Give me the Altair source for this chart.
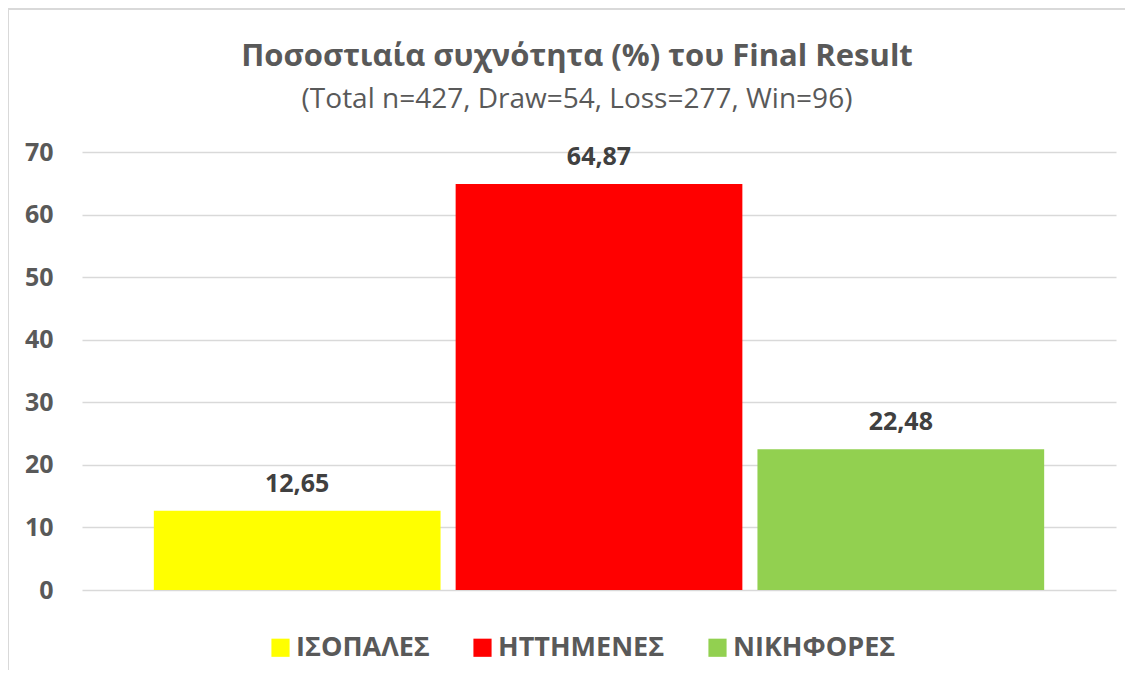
import altair as alt
import pandas as pd

categories = ["ΙΣΟΠΑΛΕΣ", "ΗΤΤΗΜΕΝΕΣ", "ΝΙΚΗΦΟΡΕΣ"]
percentages = [12.65, 64.87, 22.48]
colors = ["#FFFF00", "#FF0000", "#92D050"]
y_ticks = [0, 10, 20, 30, 40, 50, 60, 70]

title_text = "Ποσοστιαία συχνότητα (%) του Final Result"
subtitle_text = "(Total n=427, Draw=54, Loss=277, Win=96)"

df = pd.DataFrame({"cat": categories, "pct": percentages})

FONT = "Open Sans"
GRAY = "#595959"
W, H = 1034, 438

x_enc = alt.X("cat:N", sort=categories, axis=None,
              scale=alt.Scale(paddingInner=0.05, paddingOuter=0.238))
y_scale = alt.Scale(domain=[0, 70], nice=False)

bars = alt.Chart(df).mark_bar().encode(
    x=x_enc,
    y=alt.Y("pct:Q", scale=y_scale,
            axis=alt.Axis(values=y_ticks, title=None, domain=False, ticks=False,
                          labelPadding=29, labelFont=FONT, labelFontSize=25,
                          labelFontWeight="bold", labelColor=GRAY,
                          gridColor="#d9d9d9", gridWidth=1.5)),
    color=alt.Color("cat:N", sort=categories,
                    scale=alt.Scale(domain=categories, range=colors),
                    legend=alt.Legend(title=None, orient="none", direction="horizontal",
                                      legendX=185, legendY=482,
                                      symbolType="square", symbolSize=330,
                                      symbolStrokeWidth=0,
                                      labelFont=FONT, labelFontSize=27, labelLimit=400,
                                      labelFontWeight="bold", labelColor=GRAY,
                                      labelOffset=2, columnPadding=39)),
)

labels = alt.Chart(df).transform_calculate(
    lbl="replace(format(datum.pct, '.2f'), '.', ',')"
).mark_text(font=FONT, fontSize=25, fontWeight="bold", color="#404040",
            baseline="alphabetic", dy=-19).encode(
    x=x_enc,
    y=alt.Y("pct:Q", scale=y_scale),
    text="lbl:N",
)

frame = alt.Chart(df).mark_rect(fill=None, stroke="#d9d9d9", strokeWidth=1.5).encode(
    x=alt.value(-74), x2=alt.value(W + 200),
    y=alt.value(-143), y2=alt.value(H + 200),
)

title = alt.Chart(pd.DataFrame({"t": [title_text]})).mark_text(
    font=FONT, fontSize=31, fontWeight="bold", color=GRAY, baseline="middle"
).encode(x=alt.value(495), y=alt.value(-95), text="t:N")

subtitle = alt.Chart(pd.DataFrame({"t": [subtitle_text]})).mark_text(
    font=FONT, fontSize=28, color=GRAY, baseline="middle"
).encode(x=alt.value(495), y=alt.value(-52), text="t:N")

chart = alt.layer(frame, bars, labels, title, subtitle).properties(
    width=W, height=H,
    autosize=alt.AutoSizeParams(type="none"),
    padding={"left": 74, "top": 144, "right": 9, "bottom": 80},
).configure_view(stroke=None)

chart.save("out.html", embed_options={"renderer": "svg", "actions": False})
